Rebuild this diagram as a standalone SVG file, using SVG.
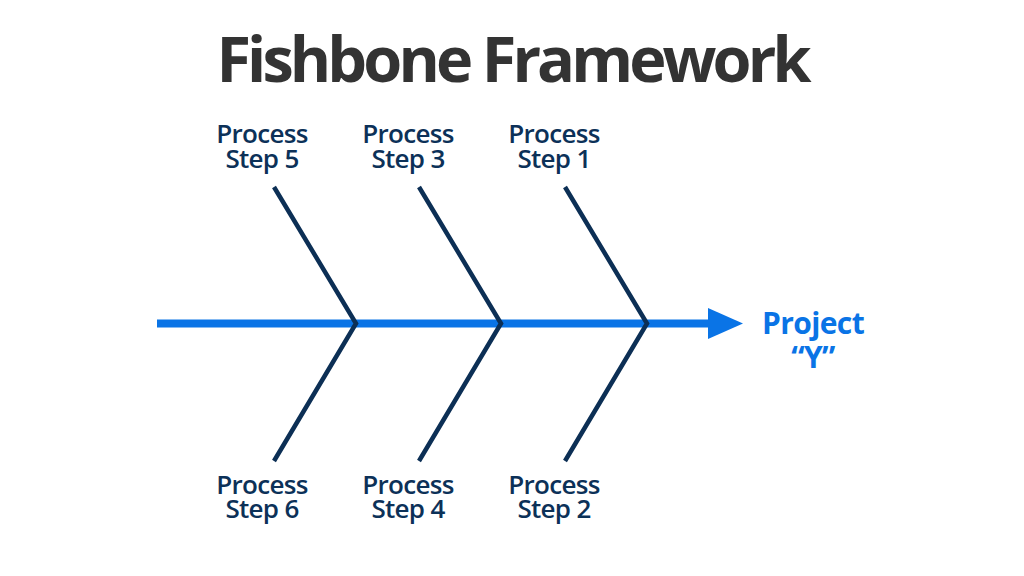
<svg xmlns="http://www.w3.org/2000/svg" width="1024" height="576" viewBox="0 0 1024 576">
<style>
.lbl{font-family:"Open Sans","Noto Sans",sans-serif;font-weight:600;font-size:26px;fill:#0c3158;text-anchor:middle;letter-spacing:-0.7px}
.title{font-family:"Open Sans","Noto Sans",sans-serif;font-weight:700;font-size:63px;fill:#333333;text-anchor:middle;letter-spacing:-3.9px}
.proj{font-family:"Open Sans","Noto Sans",sans-serif;font-weight:700;font-size:30px;fill:#0a74e6;text-anchor:middle;letter-spacing:-0.6px}
.bone{fill:none;stroke:#0c2f55;stroke-width:4.5;stroke-linejoin:miter;stroke-linecap:butt}
</style>
<rect width="1024" height="576" fill="#ffffff"/>
<text class="title" x="512" y="82">Fishbone Framework</text>
<g id="connectors">
<line x1="157" y1="323.5" x2="712" y2="323.5" stroke="#0a74e6" stroke-width="8"/>
<polygon points="708,308 743,323.5 708,339" fill="#0a74e6"/>
<polyline class="bone" points="274,187 356,323.5 274,461"/>
<polyline class="bone" points="419,187 501,323.5 419,461"/>
<polyline class="bone" points="565,187 647,323.5 565,461"/>
</g>
<g id="step5"><text class="lbl" x="262" y="143">Process</text><text class="lbl" x="262" y="168">Step 5</text></g>
<g id="step3"><text class="lbl" x="408" y="143">Process</text><text class="lbl" x="408" y="168">Step 3</text></g>
<g id="step1"><text class="lbl" x="554" y="143">Process</text><text class="lbl" x="554" y="168">Step 1</text></g>
<g id="step6"><text class="lbl" x="262" y="494">Process</text><text class="lbl" x="262" y="518">Step 6</text></g>
<g id="step4"><text class="lbl" x="408" y="494">Process</text><text class="lbl" x="408" y="518">Step 4</text></g>
<g id="step2"><text class="lbl" x="554" y="494">Process</text><text class="lbl" x="554" y="518">Step 2</text></g>
<g id="project"><text class="proj" x="813" y="334">Project</text><text class="proj" x="813" y="368">“Y”</text></g>
</svg>
